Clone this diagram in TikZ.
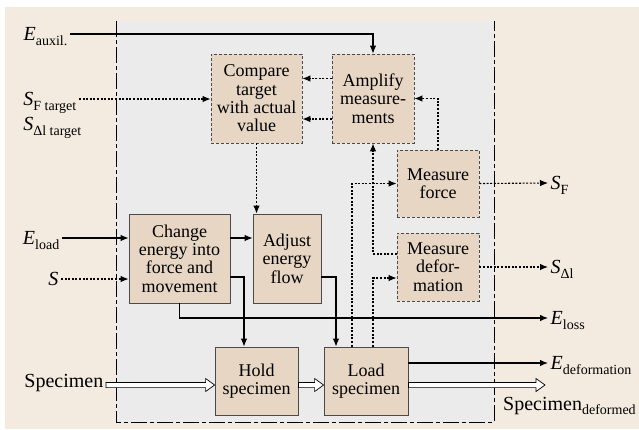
\documentclass[tikz,border=0pt]{standalone}
\usepackage{fontspec}
\setmainfont{Liberation Serif}
\usetikzlibrary{arrows.meta,calc}

\definecolor{paper}{HTML}{F3EBDF}
\definecolor{panel}{HTML}{EBEBEB}
\definecolor{boxfill}{HTML}{E6D6C3}
\definecolor{boxline}{HTML}{4A4A4A}

% variable with a lowered subscript that does not change the node height
\newcommand\var[2]{{\itshape #1}\raisebox{-4.5pt}[0pt][0pt]{\fontsize{14}{14}\selectfont #2}}

% white block arrow for the specimen flow (shaft from #1, tip at #2, both at the height of #2)
\newcommand\blockarrow[2]{%
  \path let \p1=(#1), \p2=(#2) in
    [draw=black, line width=0.7pt, fill=white, line join=miter]
    (\x1,\y2+2.6pt) -- (\x2-9pt,\y2+2.6pt) -- (\x2-9pt,\y2+6.5pt) -- (\x2,\y2)
    -- (\x2-9pt,\y2-6.5pt) -- (\x2-9pt,\y2-2.6pt) -- (\x1,\y2-2.6pt) -- cycle;}

\tikzset{
  stage/.style={rectangle, fill=boxfill, draw=boxline, line width=0.8pt,
    align=center, inner sep=0pt, font=\fontsize{18}{18.4}\selectfont},
  signalbox/.style={stage, dash pattern=on 3pt off 2pt},
  flow/.style={line width=1.1pt, -{Latex[length=8pt,width=6.5pt]}},
  flowline/.style={line width=1.1pt},
  signal/.style={line width=1.1pt, dash pattern=on 2pt off 1.6pt, -{Latex[length=8pt,width=6.5pt]}},
  signalline/.style={line width=1.1pt, dash pattern=on 2pt off 1.6pt},
  label/.style={inner sep=2.5pt, font=\fontsize{20}{20}\selectfont},
  border/.style={line width=0.9pt, dash pattern=on 16pt off 3pt on 4pt off 3pt},
}

\begin{document}
\begin{tikzpicture}[x=1pt,y=-1pt]
\useasboundingbox (0,0) rectangle (639,429);
\fill[white] (0,0) rectangle (639,429);
\fill[paper] (5,7) rectangle (639,429);
\fill[panel] (116,21) rectangle (494,422);
\draw[border] (116,21) -- (116,422) -- (494,422) -- (494,21);

% stages
\node[signalbox, minimum width=91pt, minimum height=89pt] (compare) at (256.5,98.5) {Compare\\target\\with actual\\value};
\node[signalbox, minimum width=82pt, minimum height=89pt] (amplify) at (373,98.5) {Amplify\\measure-\\ments};
\node[signalbox, minimum width=82pt, minimum height=67pt] (mforce) at (438,183.5) {Measure\\force};
\node[signalbox, minimum width=82pt, minimum height=68pt] (mdef) at (438,267) {Measure\\defor-\\mation};
\node[stage, minimum width=101pt, minimum height=89pt] (change) at (179.5,258.5) {Change\\energy into\\force and\\movement};
\node[stage, minimum width=68pt, minimum height=89pt] (adjust) at (287,258.5) {Adjust\\energy\\flow};
\node[stage, minimum width=83pt, minimum height=68pt] (hold) at (256.5,381) {Hold\\specimen};
\node[stage, minimum width=84pt, minimum height=68pt] (load) at (366,381) {Load\\specimen};

% inputs
\node[label, anchor=east] (eaux) at (70,34) {\var{E}{auxil.}};
\node[label, anchor=east] (sft) at (79,99) {\var{S}{F target}};
\node[label, anchor=east] (sdt) at (84,124) {\var{S}{Δl target}};
\node[label, anchor=east] (eload) at (62,238) {\var{E}{load}};
\node[label, anchor=east] (sin) at (61,279) {\itshape S};
\node[label, anchor=east] (spec) at (106,383) {Specimen};

% outputs
\node[label, anchor=west] (sF) at (548,183) {\var{S}{F}};
\node[label, anchor=west] (sdl) at (548,267) {\var{S}{Δl}};
\node[label, anchor=west] (eloss) at (548,318) {\var{E}{loss}};
\node[label, anchor=west] (edef) at (548,363) {\var{E}{deformation}};
\node[label, anchor=base west, inner sep=0pt] (specdef) at (503,410) {Specimen\raisebox{-4.5pt}{\fontsize{14}{14}\selectfont deformed}};
\coordinate (specout) at (545,385);

% auxiliary energy and set points
\draw[flow] (eaux.east) -| (amplify.north);
\draw[signal] (sft.east) -- (sft.east -| compare.west);
\coordinate (a1) at ($(amplify.west)+(0,-20)$);
\coordinate (a2) at ($(amplify.west)+(0,20.5)$);
\draw[signal] (a1) -- (a1 -| compare.east);
\draw[signal] (a2) -- (a2 -| compare.east);
\draw[signal] (compare.south) -- (compare.south |- adjust.north);

% measurement feedback
\draw[signal] (mforce.north) |- (amplify.east);
\coordinate (l1) at ($(load.north)+(-14,0)$);
\coordinate (l2) at ($(load.north)+(7,0)$);
\draw[signal] (l1) |- (mforce.west);
\draw[signal] (l2) |- ($(mdef.west)+(0,11)$);
\draw[signal] ($(mdef.west)+(0,-13)$) -| (amplify.south);
\draw[signal] (mforce.east) -- (sF.west);
\draw[signal] (mdef.east) -- (sdl.west);

% energy path
\draw[flow] (eload.east) -- (eload.east -| change.west);
\draw[signal] (sin.east) -- (sin.east -| change.west);
\coordinate (c1) at ($(change.east)+(0,-20.5)$);
\draw[flow] (c1) -- (c1 -| adjust.west);
\draw[flow] ($(change.east)+(0,18.5)$) -| ($(hold.north)+(-12.5,0)$);
\draw[flow] (change.south) |- (eloss.west);
\draw[flow] ($(adjust.east)+(0,18.5)$) -| ($(load.north)+(-30,0)$);
\draw[flow] ($(load.east)+(0,-18)$) -- (edef.west);

% specimen flow
\blockarrow{spec.east}{$(hold.west)+(0,4)$}
\blockarrow{hold.east}{$(load.west)+(0,4)$}
\blockarrow{load.east}{specout}
\end{tikzpicture}
\end{document}
